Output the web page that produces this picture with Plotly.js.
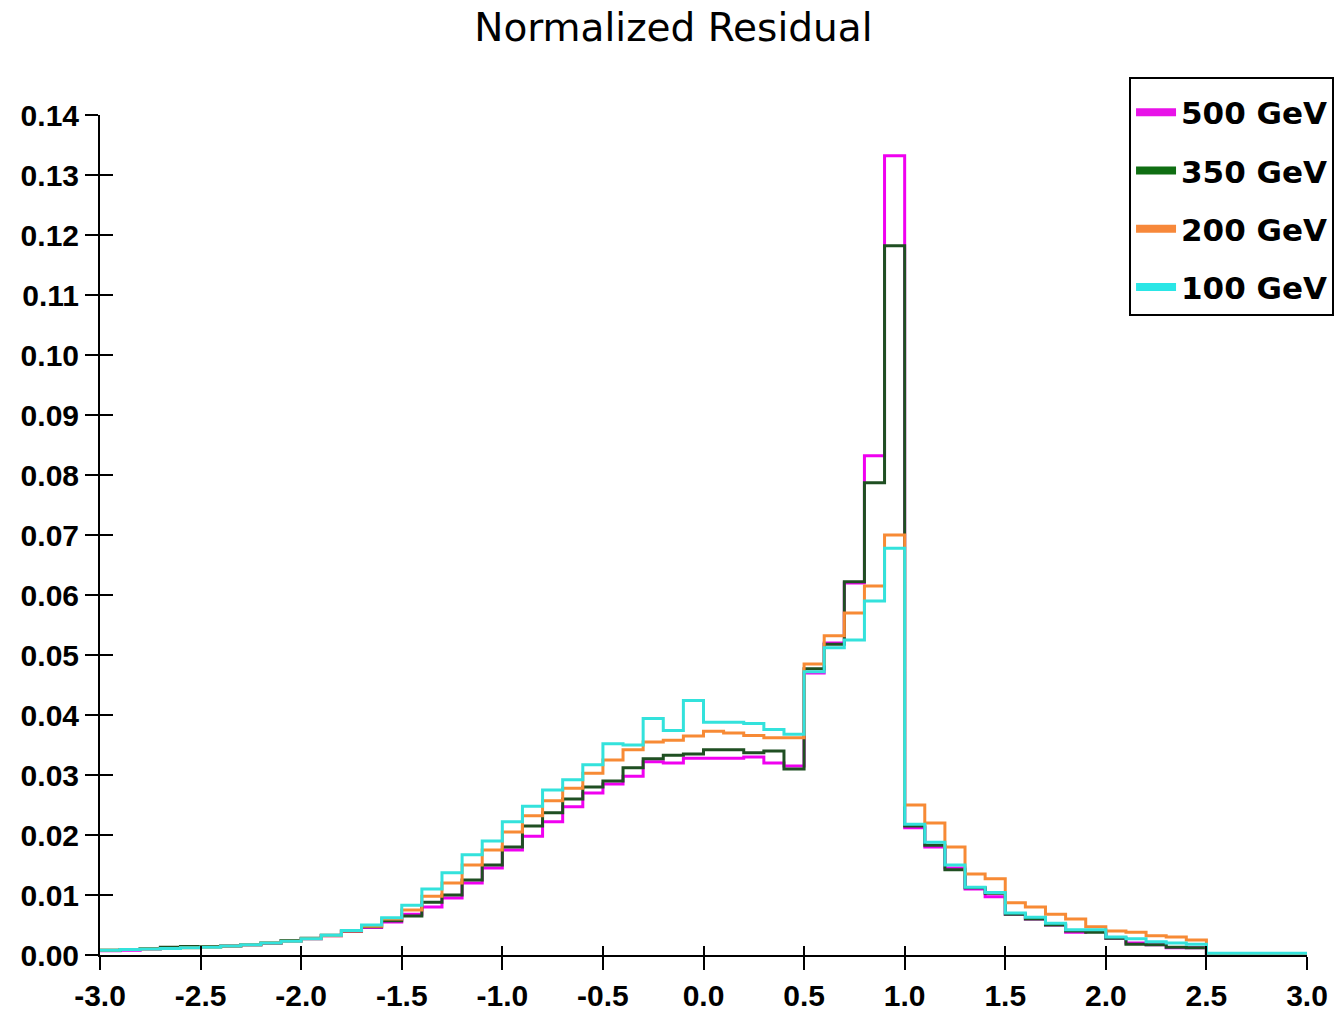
<!DOCTYPE html>
<html>
<head>
<meta charset="utf-8">
<script src="https://cdn.plot.ly/plotly-3.0.1.min.js"></script>
<style>html,body{margin:0;padding:0;background:#fff;}#chart{width:1336px;height:1014px;}</style>
</head>
<body>
<div id="chart"></div>
<script>
// Histogram binning: 60 bins of width 0.1 from -3.0 to 3.0
const binLow = -3.0;
const binWidth = 0.1;

const seriesNames = ["500 GeV", "350 GeV", "200 GeV", "100 GeV"];

const xTickVals = [-3.0, -2.5, -2.0, -1.5, -1.0, -0.5, 0.0, 0.5, 1.0, 1.5, 2.0, 2.5, 3.0];
const xTickLabels = ["-3.0", "-2.5", "-2.0", "-1.5", "-1.0", "-0.5", "0.0", "0.5", "1.0", "1.5", "2.0", "2.5", "3.0"];

const values500 = [
  0.0007, 0.0008, 0.0010, 0.0012, 0.0013, 0.0014, 0.0015, 0.0017, 0.0019, 0.0023,
  0.0027, 0.0032, 0.0039, 0.0046, 0.0055, 0.0068, 0.0080, 0.0095, 0.0120, 0.0145,
  0.0175, 0.0198, 0.0222, 0.0247, 0.0270, 0.0285, 0.0298, 0.0322, 0.0320, 0.0328,
  0.0328, 0.0328, 0.0330, 0.0320, 0.0315, 0.0470, 0.0520, 0.0620, 0.0832, 0.1332,
  0.0212, 0.0180, 0.0145, 0.0110, 0.0097, 0.0068, 0.0060, 0.0050, 0.0038, 0.0040,
  0.0028, 0.0020, 0.0017, 0.0012, 0.0012, 0.0002, 0.0002, 0.0002, 0.0002, 0.0002
];
const values350 = [
  0.0008, 0.0009, 0.0011, 0.0013, 0.0014, 0.0014, 0.0015, 0.0017, 0.0020, 0.0024,
  0.0028, 0.0033, 0.0040, 0.0047, 0.0057, 0.0065, 0.0088, 0.0100, 0.0125, 0.0150,
  0.0180, 0.0215, 0.0237, 0.0260, 0.0280, 0.0290, 0.0312, 0.0327, 0.0333, 0.0335,
  0.0342, 0.0342, 0.0337, 0.0340, 0.0310, 0.0477, 0.0518, 0.0622, 0.0787, 0.1182,
  0.0215, 0.0183, 0.0142, 0.0112, 0.0103, 0.0068, 0.0060, 0.0050, 0.0040, 0.0038,
  0.0028, 0.0018, 0.0017, 0.0013, 0.0012, 0.0002, 0.0002, 0.0002, 0.0002, 0.0002
];
const values200 = [
  0.0008, 0.0009, 0.0010, 0.0011, 0.0012, 0.0013, 0.0015, 0.0017, 0.0020, 0.0023,
  0.0027, 0.0032, 0.0040, 0.0048, 0.0060, 0.0075, 0.0098, 0.0120, 0.0150, 0.0175,
  0.0205, 0.0232, 0.0257, 0.0278, 0.0303, 0.0325, 0.0342, 0.0355, 0.0358, 0.0365,
  0.0373, 0.0370, 0.0366, 0.0362, 0.0362, 0.0485, 0.0532, 0.0570, 0.0615, 0.0700,
  0.0250, 0.0220, 0.0180, 0.0135, 0.0127, 0.0087, 0.0080, 0.0068, 0.0060, 0.0047,
  0.0040, 0.0038, 0.0032, 0.0030, 0.0025, 0.0002, 0.0002, 0.0002, 0.0002, 0.0002
];
const values100 = [
  0.0008, 0.0009, 0.0010, 0.0011, 0.0012, 0.0013, 0.0015, 0.0017, 0.0020, 0.0023,
  0.0027, 0.0033, 0.0041, 0.0050, 0.0062, 0.0083, 0.0110, 0.0137, 0.0167, 0.0190,
  0.0222, 0.0248, 0.0275, 0.0292, 0.0317, 0.0352, 0.0350, 0.0394, 0.0374, 0.0424,
  0.0388, 0.0388, 0.0386, 0.0376, 0.0368, 0.0472, 0.0512, 0.0525, 0.0590, 0.0678,
  0.0218, 0.0188, 0.0150, 0.0113, 0.0104, 0.0070, 0.0063, 0.0053, 0.0042, 0.0042,
  0.0030, 0.0027, 0.0022, 0.0020, 0.0018, 0.0003, 0.0003, 0.0003, 0.0003, 0.0003
];

const lineColors = ["#f000f0", "#1f4f22", "#f78a35", "#33e2dc"];
const swatchColors = ["#e812e8", "#0f6e12", "#f7883a", "#2ae6e6"];

const allValues = [values500, values350, values200, values100];

function edges(n) {
  const e = [];
  for (let i = 0; i <= n; i++) e.push(Math.round((binLow + i * binWidth) * 10) / 10);
  return e;
}

const traces = [];
allValues.forEach((vals, k) => {
  traces.push({
    x: edges(vals.length),
    y: vals.concat([vals[vals.length - 1]]),
    type: "scatter",
    mode: "lines",
    line: { shape: "hv", color: lineColors[k], width: 3 },
    showlegend: false,
    hoverinfo: "skip"
  });
});
// legend entries (thick swatches)
allValues.forEach((vals, k) => {
  traces.push({
    x: [null], y: [null],
    type: "scatter", mode: "lines",
    name: seriesNames[k],
    legendgroup: "g" + k,
    line: { color: swatchColors[k], width: 8 },
    showlegend: true
  });
});
// empty trace to host the inside-tick overlay axes
traces.push({ x: [], y: [], xaxis: "x2", yaxis: "y2", type: "scatter", mode: "lines", showlegend: false, hoverinfo: "skip" });

const tickFont = { family: "Liberation Sans, Arial, sans-serif", size: 30, color: "#000", weight: "bold" };

const layout = {
  width: 1336,
  height: 1014,
  paper_bgcolor: "#fff",
  plot_bgcolor: "#fff",
  margin: { l: 100, r: 29, t: 115, b: 59, pad: 0, autoexpand: false },
  title: {
    text: "Normalized Residual",
    font: { family: "DejaVu Sans, Verdana, sans-serif", size: 39, color: "#000" },
    xref: "container", x: 0.504, xanchor: "center",
    yref: "container", y: 0.973, yanchor: "middle"
  },
  xaxis: {
    range: [-3, 3], tickmode: "array", tickvals: xTickVals, ticktext: xTickLabels,
    ticks: "outside", ticklen: 13, tickwidth: 2, tickcolor: "#000",
    showline: true, linecolor: "#000", linewidth: 2,
    showgrid: false, zeroline: false, tickfont: tickFont, automargin: false
  },
  yaxis: {
    range: [0, 0.14], tick0: 0, dtick: 0.01, tickformat: ".2f",
    ticks: "outside", ticklen: 13, tickwidth: 2, tickcolor: "#000",
    showline: true, linecolor: "#000", linewidth: 2,
    showgrid: false, zeroline: false, tickfont: tickFont, automargin: false
  },
  xaxis2: {
    overlaying: "x", anchor: "y", side: "bottom",
    range: [-3, 3], tickmode: "array", tickvals: xTickVals,
    ticks: "inside", ticklen: 9, tickwidth: 2, tickcolor: "#000",
    showticklabels: false, showline: false, showgrid: false, zeroline: false
  },
  yaxis2: {
    overlaying: "y", anchor: "x", side: "left",
    range: [0, 0.14], tick0: 0, dtick: 0.01,
    ticks: "inside", ticklen: 13, tickwidth: 2, tickcolor: "#000",
    showticklabels: false, showline: false, showgrid: false, zeroline: false
  },
  legend: {
    xref: "paper", x: 1.0224, xanchor: "right",
    yref: "paper", y: 1.0452, yanchor: "top",
    bordercolor: "#000", borderwidth: 2, bgcolor: "#fff",
    font: { family: "DejaVu Sans, Verdana, sans-serif", size: 31, color: "#000", weight: "bold" },
    title: { text: " ", font: { size: 5 } },
    tracegroupgap: 15,
    itemwidth: 40
  },
  showlegend: true
};

Plotly.newPlot("chart", traces, layout, { staticPlot: true, displayModeBar: false });
</script>
</body>
</html>
